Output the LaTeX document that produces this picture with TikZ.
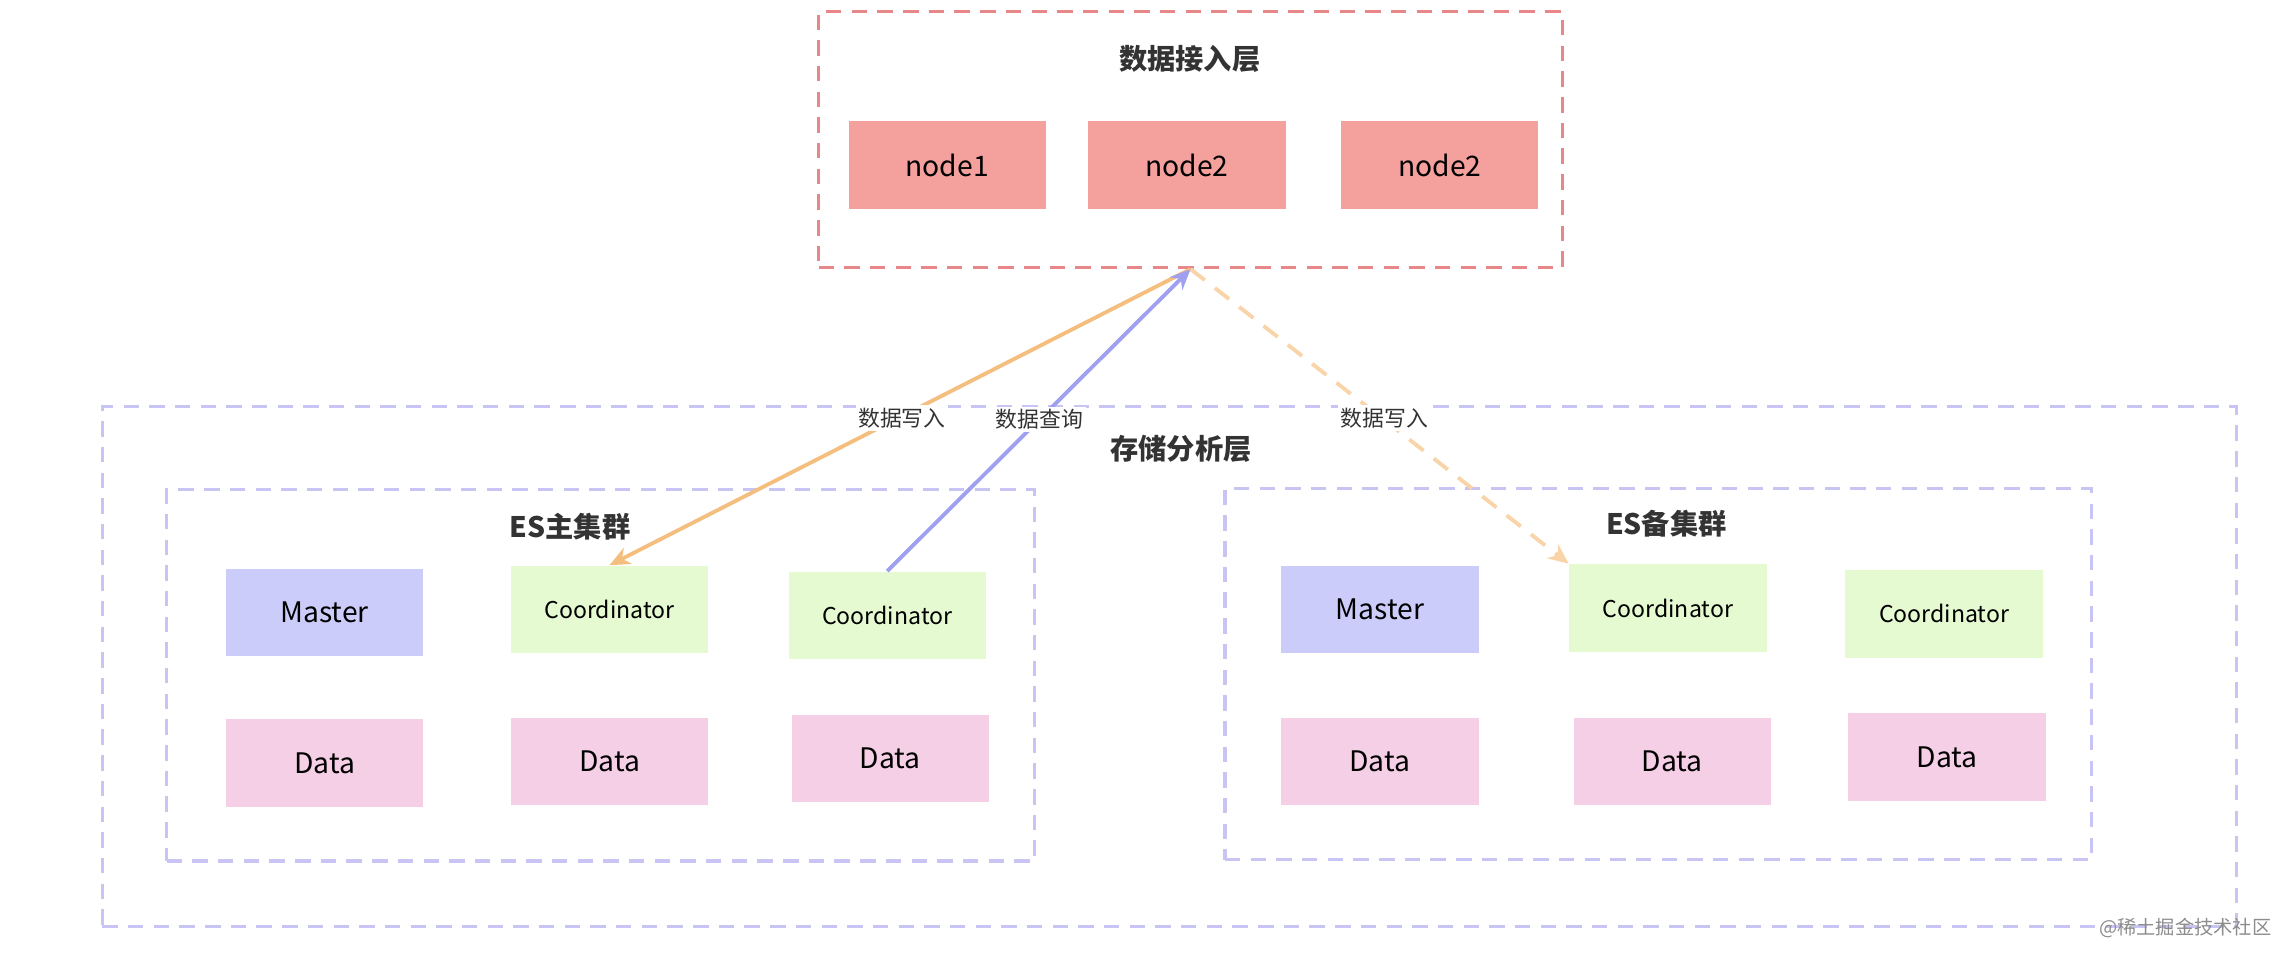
\documentclass[tikz,border=0pt]{standalone}
\usepackage{fontspec}
\setmainfont{Noto Sans CJK SC}
\usetikzlibrary{arrows.meta,positioning}
\definecolor{redline}{HTML}{E8878A}
\definecolor{purpline}{HTML}{C8C4F4}
\definecolor{accfill}{HTML}{F4A09C}
\definecolor{mastfill}{HTML}{CCCCFA}
\definecolor{coordfill}{HTML}{E6FAD2}
\definecolor{datafill}{HTML}{F5CFE5}
\definecolor{writeline}{HTML}{F4BE7E}
\definecolor{queryline}{HTML}{A0A0F0}
\definecolor{backline}{HTML}{F8D4A8}
\begin{document}
\begin{tikzpicture}[x=0.02cm,y=-0.02cm,
    layer/.style={rectangle,draw,dashed,line width=1.2pt,dash pattern=on 6pt off 4pt,anchor=north west,inner sep=0pt},
    box/.style={rectangle,minimum width=2.7cm,minimum height=1.2cm,font=\fontsize{11}{13}\selectfont,inner sep=0pt},
    title/.style={font=\fontsize{11}{13}\selectfont\bfseries,text=black!80},
    lbl/.style={font=\fontsize{8.5}{10}\selectfont,fill=white,inner sep=1pt,text=black!80},
    arrow/.style={-{Stealth[length=8pt,width=7pt]},line width=1.5pt}
]
    \useasboundingbox (0,0) rectangle (1568,659);
    % Data access layer
    \node[layer,draw=redline,minimum width=10.18cm,minimum height=3.5cm] (access) at (559,7) {};
    \node[title] at (814,40) {数据接入层};
    \node[box,fill=accfill] (n1) at (648,113) {node1};
    \node[box,fill=accfill] (n2) at (812,113) {node2};
    \node[box,fill=accfill] (n3) at (985,113) {node2};

    % Storage layer
    \node[layer,draw=purpline,minimum width=29.2cm,minimum height=7.12cm] (store) at (69,277) {};
    \node[title] at (808,307) {存储分析层};

    % Primary cluster
    \node[layer,draw=purpline,minimum width=11.88cm,minimum height=5.08cm] (main) at (113,334) {};
    \node[title] at (390,360) {ES主集群};
    \node[box,fill=mastfill] (m1) at (222,419) {Master};
    \node[box,fill=coordfill,font=\fontsize{9}{11}\selectfont] (c1) at (417,417) {Coordinator};
    \node[box,fill=coordfill,font=\fontsize{9}{11}\selectfont] (c2) at (607,421) {Coordinator};
    \node[box,fill=datafill] (d1) at (222,522) {Data};
    \node[box,fill=datafill] (d2) at (417,521) {Data};
    \node[box,fill=datafill] (d3) at (609,519) {Data};

    % Backup cluster
    \node[layer,draw=purpline,minimum width=11.86cm,minimum height=5.08cm] (backup) at (837,333) {};
    \node[title] at (1140,358) {ES备集群};
    \node[box,fill=mastfill] (bm1) at (944,417) {Master};
    \node[box,fill=coordfill,font=\fontsize{9}{11}\selectfont] (bc1) at (1141,416) {Coordinator};
    \node[box,fill=coordfill,font=\fontsize{9}{11}\selectfont] (bc2) at (1330,420) {Coordinator};
    \node[box,fill=datafill] (bd1) at (944,521) {Data};
    \node[box,fill=datafill] (bd2) at (1144,521) {Data};
    \node[box,fill=datafill] (bd3) at (1332,518) {Data};

    % Flows
    \draw[arrow,writeline] (access.south) -- (c1.north);
    \draw[arrow,queryline] (c2.north) -- (access.south);
    \draw[arrow,backline,dashed,dash pattern=on 7pt off 5pt] (access.south) -- (bc1.north west);
    \node[lbl] at (617,286) {数据写入};
    \node[lbl] at (711,287) {数据查询};
    \node[lbl] at (947,286) {数据写入};

    \node[font=\fontsize{7.5}{9}\selectfont,text=black!45] (mark) at (1495,635) {@稀土掘金技术社区};
\end{tikzpicture}
\end{document}
